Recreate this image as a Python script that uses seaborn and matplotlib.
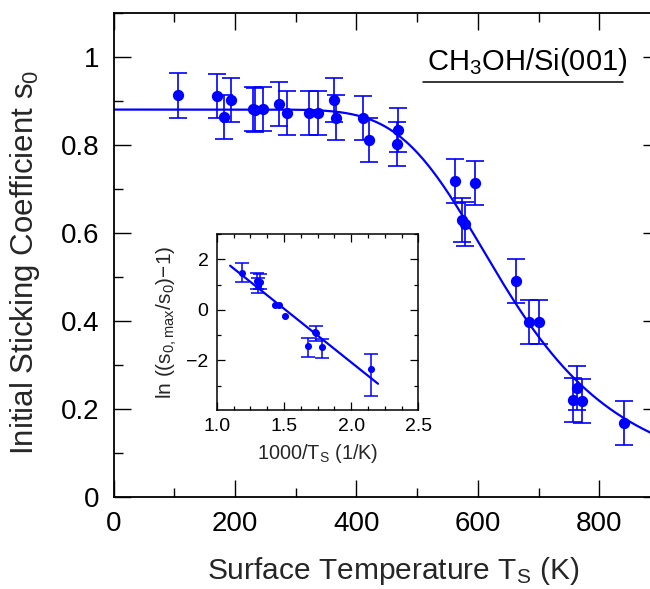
#!/usr/bin/env python3
"""Initial sticking coefficient of CH3OH on Si(001) vs surface temperature."""

import matplotlib
matplotlib.use("Agg")
import matplotlib.pyplot as plt
from matplotlib.lines import Line2D
from matplotlib.ticker import FuncFormatter, MultipleLocator
import numpy as np
import pandas as pd
import seaborn as sns

# main panel: surface temperature (K) and initial sticking coefficient
temp_k = [106, 170, 181, 194, 229, 233, 246, 272, 285, 322, 337, 363, 366, 411,
          421, 468, 466, 563, 596, 574, 579, 663, 685, 701, 764, 757, 771, 841]
s0 = [0.912, 0.910, 0.863, 0.901, 0.881, 0.878, 0.881, 0.892, 0.872, 0.873,
      0.873, 0.901, 0.862, 0.861, 0.811, 0.833, 0.802, 0.718, 0.713, 0.630,
      0.620, 0.491, 0.398, 0.398, 0.247, 0.220, 0.217, 0.168]
S0_ERR = 0.05

# fit: s0 = s_max / (1 + exp(a + b * 1000/T))
S_MAX = 0.88
FIT_A = 6.42
FIT_B = -4.25

# inset: ln((s0,max/s0) - 1) vs 1000/T
inv_t = [1.19, 1.30, 1.31, 1.32, 1.43, 1.46, 1.51, 1.68, 1.73, 1.74, 1.78, 2.15]
ln_ratio = [1.44, 1.12, 0.94, 1.10, 0.19, 0.19, -0.23, -1.45, -0.87, -0.92, -1.49, -2.33]
bar_top = [1.85, 1.45, 1.24, 1.43, np.nan, np.nan, np.nan, -1.12, np.nan, -0.66, -1.15, -1.77]
bar_bottom = [1.11, 0.83, 0.68, 0.82, np.nan, np.nan, np.nan, -1.88, np.nan, -1.22, -1.92, -3.40]
INSET_FIT_RANGE = (1.1, 2.2)

BLUE = "#0000ff"


def main() -> int:
    sns.set_theme(style="ticks")
    plt.rcParams["font.family"] = ["Liberation Sans", "DejaVu Sans"]
    plt.rcParams["mathtext.default"] = "regular"
    plt.rcParams["axes.edgecolor"] = "black"
    plt.rcParams["xtick.color"] = "black"
    plt.rcParams["ytick.color"] = "black"

    fig = plt.figure(figsize=(6.5, 5.89), dpi=100)
    ax = fig.add_axes([0.1749, 0.1562, 0.8405, 0.8222])

    main_df = pd.DataFrame({"T": temp_k, "s0": s0})
    t_grid = np.linspace(1, 950, 600)
    fit_df = pd.DataFrame({
        "T": t_grid,
        "s0": S_MAX / (1 + np.exp(FIT_A + FIT_B * 1000 / t_grid)),
    })

    sns.lineplot(data=fit_df, x="T", y="s0", ax=ax, color=BLUE, lw=1.6, zorder=2)
    ax.errorbar(main_df["T"], main_df["s0"], yerr=S0_ERR, fmt="none",
                ecolor=BLUE, elinewidth=1.2, capsize=6.2, capthick=1.2, zorder=3)
    sns.scatterplot(data=main_df, x="T", y="s0", ax=ax, color=BLUE, s=66,
                    edgecolor=BLUE, linewidth=0, zorder=4)

    ax.set_xlim(0, 900)
    ax.set_ylim(0, 1.1)
    ax.xaxis.set_major_locator(MultipleLocator(200))
    ax.xaxis.set_minor_locator(MultipleLocator(100))
    ax.yaxis.set_major_locator(MultipleLocator(0.2))
    ax.yaxis.set_minor_locator(MultipleLocator(0.1))
    ax.yaxis.set_major_formatter(FuncFormatter(lambda v, _: f"{v:g}"))
    ax.tick_params(which="both", direction="in", top=True, right=True,
                   labelsize=20, width=1.0)
    ax.tick_params(which="major", length=12.5, pad=10)
    ax.tick_params(which="minor", length=6.5)
    for sp in ax.spines.values():
        sp.set_linewidth(1.3)

    ax.set_xlabel("Surface Temperature T$_S$ (K)", fontsize=21.5)
    ax.set_ylabel("Initial Sticking Coefficient s$_0$", fontsize=22.5)
    ax.xaxis.set_label_coords(0.511, -0.12)
    ax.yaxis.set_label_coords(-0.132, 0.485)

    ax.text(681, 0.970, "CH$_3$OH/Si(001)", fontsize=21, ha="center",
            va="baseline", color="black")
    fig.add_artist(Line2D([423 / 650, 623 / 650], [1 - 81.7 / 589] * 2,
                          transform=fig.transFigure, color="black", lw=1.1))

    # inset
    ins = fig.add_axes([0.3334, 0.3039, 0.3102, 0.2988])
    ins_df = pd.DataFrame({"x": inv_t, "y": ln_ratio,
                           "top": bar_top, "bottom": bar_bottom})
    bars = ins_df.dropna()
    line_x = np.array(INSET_FIT_RANGE)
    line_df = pd.DataFrame({"x": line_x, "y": FIT_A + FIT_B * line_x})

    sns.lineplot(data=line_df, x="x", y="y", ax=ins, color=BLUE, lw=1.6, zorder=2)
    ins.errorbar(bars["x"], bars["y"],
                 yerr=[bars["y"] - bars["bottom"], bars["top"] - bars["y"]],
                 fmt="none", ecolor=BLUE, elinewidth=1.1, capsize=4.8,
                 capthick=1.1, zorder=3)
    sns.scatterplot(data=ins_df, x="x", y="y", ax=ins, color=BLUE, s=26,
                    linewidth=0, zorder=4)

    ins.set_xlim(1.0, 2.5)
    ins.set_ylim(-3.97, 3)
    ins.xaxis.set_major_locator(MultipleLocator(0.5))
    ins.xaxis.set_minor_locator(MultipleLocator(0.125))
    ins.yaxis.set_major_locator(MultipleLocator(2))
    ins.yaxis.set_minor_locator(MultipleLocator(1))
    ins.xaxis.set_major_formatter(FuncFormatter(lambda v, _: f"{v:.1f}"))
    ins.tick_params(which="both", direction="in", top=True, right=True,
                    labelsize=14, width=0.9)
    ins.tick_params(which="major", length=6, pad=6)
    ins.tick_params(which="minor", length=3.2)
    for sp in ins.spines.values():
        sp.set_linewidth(1.1)
    ins.set_xlabel("1000/T$_S$ (1/K)", fontsize=14.3, labelpad=5)
    ins.set_ylabel("ln ((s$_{0,max}$/s$_0$)\u22121)", fontsize=15, labelpad=5)

    fig.savefig("out.png", dpi=100)
    plt.close(fig)
    return 0


if __name__ == "__main__":
    raise SystemExit(main())
